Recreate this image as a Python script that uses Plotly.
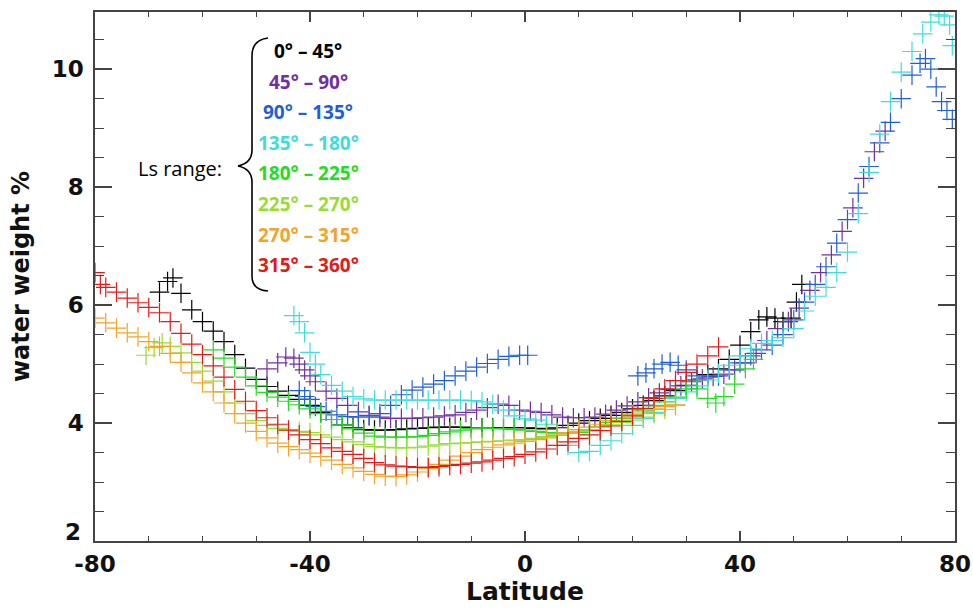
import plotly.graph_objects as go

# ---------------- data ----------------
ls_labels = ["0° – 45°", "45° – 90°", "90° – 135°", "135° – 180°",
             "180° – 225°", "225° – 270°", "270° – 315°", "315° – 360°"]
ls_colors = ["#000000", "#7030A0", "#1F5FD6", "#3FDCDC",
             "#22DD22", "#9ADB34", "#F2A428", "#E31A1A"]

lat_00_45 = [-68, -66.5, -65.5, -64, -62, -60, -58, -56, -54, -52, -50, -48, -46, -44, -42, -40,
             -38, -36, -34, -32, -30, -28, -26, -24, -22, -20, -18, -16, -14, -12, -10, -8, -6, -4,
             -2, 0, 2, 4, 6, 8, 10, 12, 14, 16, 18, 20, 22, 24, 26, 28, 30, 32, 34, 36, 38, 40, 42,
             43.5, 45, 46.5, 48, 49.5, 50.5, 51.5]
ww_00_45 = [6.22, 6.40, 6.46, 6.20, 5.92, 5.72, 5.56, 5.38, 5.16, 4.93, 4.74, 4.62, 4.54, 4.47, 4.40,
            4.30, 4.18, 4.06, 3.97, 3.92, 3.89, 3.88, 3.88, 3.89, 3.90, 3.91, 3.92, 3.93, 3.93, 3.93,
            3.92, 3.92, 3.92, 3.92, 3.92, 3.92, 3.91, 3.90, 3.92, 3.96, 4.00, 4.04, 4.08, 4.13, 4.18,
            4.24, 4.30, 4.38, 4.46, 4.55, 4.64, 4.73, 4.82, 4.92, 5.08, 5.32, 5.55, 5.75, 5.80, 5.78,
            5.72, 5.78, 6.05, 6.35]

lat_45_90 = [-48, -46, -44.5, -43, -42, -41, -40, -39, -37, -35, -33, -31, -29, -27, -25, -23, -21,
             -19, -17, -15, -13, -11, -9, -7, -5, -3, -1, 1, 3, 5, 7, 9, 11, 13, 15, 17, 19, 21, 23,
             25, 27, 29, 31, 33, 35, 37, 39, 41, 43, 45, 47, 49, 51, 53, 55, 57, 59, 61, 63, 65, 67]
ww_45_90 = [4.92, 5.02, 5.12, 5.10, 5.00, 4.90, 4.80, 4.70, 4.54, 4.42, 4.30, 4.19, 4.13, 4.10, 4.08,
            4.08, 4.08, 4.09, 4.10, 4.12, 4.14, 4.18, 4.22, 4.26, 4.32, 4.30, 4.22, 4.20, 4.18, 4.14,
            4.10, 4.09, 4.09, 4.10, 4.15, 4.22, 4.29, 4.36, 4.43, 4.51, 4.57, 4.63, 4.70, 4.75, 4.79,
            4.83, 4.90, 5.02, 5.18, 5.40, 5.60, 5.72, 5.95, 6.25, 6.55, 6.85, 7.25, 7.65, 8.15, 8.60,
            8.95]

lat_90_135 = [-42, -41, -40, -39, -37, -35, -33, -31, -29, -27, -25, -23, -21, -19, -17, -15, -13,
              -11, -9, -7, -5, -3, -1, 0.5,
              21, 22.5, 24, 25.5, 27, 28.5, 30, 32, 34, 36, 38, 40, 42, 44, 46, 48, 50, 52, 54, 56,
              58, 60, 62, 64, 66, 68, 70, 72, 73.5, 74.5, 75.5, 76.5, 77.5, 78.5, 79.5]
ww_90_135 = [4.55, 4.45, 4.40, 4.28, 4.20, 4.14, 4.11, 4.10, 4.12, 4.16, 4.30, 4.48, 4.56, 4.61, 4.66,
             4.72, 4.80, 4.88, 4.95, 5.01, 5.08, 5.13, 5.15, 5.15,
             4.80, 4.85, 4.92, 5.00, 5.03, 4.98, 4.90, 4.80, 4.78, 4.80, 4.90, 5.02, 5.14, 5.24, 5.32,
             5.50, 5.75, 6.05, 6.35, 6.65, 7.05, 7.45, 7.90, 8.35, 8.75, 9.10, 9.50, 9.90, 10.10,
             10.18, 10.00, 9.70, 9.45, 9.30, 9.15]

lat_135_180 = [-43, -42, -41, -40, -39, -38, -36, -34, -32, -30, -28, -26, -24, -22, -20, -18, -16,
               -14, -12, -10, -8, -6, -4, -2, 0, 2, 4, 6, 8, 10, 12, 14, 16, 18, 20, 22, 24, 26, 28,
               30, 32, 34, 36, 38, 40, 42, 44, 46, 48, 50, 52, 54, 56, 58, 60, 62, 64, 66, 68, 70, 72,
               74, 75.5, 77, 78, 79, 79.5]
ww_135_180 = [5.82, 5.72, 5.53, 5.20, 5.00, 4.82, 4.64, 4.54, 4.45, 4.41, 4.39, 4.39, 4.39, 4.39,
              4.39, 4.39, 4.39, 4.39, 4.39, 4.38, 4.36, 4.32, 4.22, 4.12, 4.07, 4.05, 3.98, 3.84, 3.62,
              3.50, 3.52, 3.62, 3.70, 3.82, 3.96, 4.08, 4.18, 4.30, 4.42, 4.53, 4.63, 4.73, 4.84, 4.98,
              5.14, 5.26, 5.35, 5.40, 5.45, 5.60, 5.90, 6.15, 6.30, 6.55, 6.90, 7.55, 8.25, 8.90, 9.45,
              9.95, 10.30, 10.60, 10.80, 10.92, 10.90, 10.75, 10.40]

lat_180_225 = [-58, -56, -54, -52, -50, -48, -46, -44, -42, -40, -38, -36, -34, -32, -30, -28, -26,
               -24, -22, -20, -18, -16, -14, -12, -10, -8, -6, -4, -2, 0, 2, 4, 6, 8, 10, 12, 14, 16,
               18, 20, 22, 24, 26, 28, 30, 32, 34, 35.5, 37, 39, 41, 42.5]
ww_180_225 = [5.24, 5.10, 4.95, 4.78, 4.63, 4.52, 4.44, 4.37, 4.31, 4.24, 4.16, 4.06, 3.97, 3.90,
              3.83, 3.78, 3.76, 3.76, 3.76, 3.77, 3.79, 3.82, 3.85, 3.88, 3.90, 3.92, 3.91, 3.90, 3.89,
              3.88, 3.86, 3.84, 3.83, 3.83, 3.84, 3.88, 3.94, 4.01, 4.08, 4.15, 4.22, 4.29, 4.36, 4.44,
              4.58, 4.58, 4.42, 4.34, 4.45, 4.66, 4.92, 5.08]

lat_225_270 = [-70.5, -69, -67.5, -66, -64, -62, -60, -58, -56, -54, -52, -50, -48, -46, -44, -42,
               -40, -38, -36, -34, -32, -30, -28, -26, -24, -22, -20, -18, -16, -14, -12, -10, -8, -6,
               -4, -2, 0, 2, 4, 6, 8, 10, 12, 14, 16, 18, 20, 22, 24, 26, 28]
ww_225_270 = [5.15, 5.28, 5.36, 5.30, 5.19, 5.03, 4.88, 4.71, 4.53, 4.34, 4.16, 4.04, 3.96, 3.91,
              3.88, 3.86, 3.84, 3.80, 3.76, 3.72, 3.68, 3.64, 3.60, 3.59, 3.58, 3.58, 3.59, 3.61, 3.63,
              3.65, 3.66, 3.67, 3.68, 3.69, 3.70, 3.71, 3.72, 3.74, 3.77, 3.80, 3.83, 3.86, 3.89, 3.93,
              3.97, 4.01, 4.05, 4.10, 4.16, 4.23, 4.30]

lat_270_315 = [-80, -78, -76, -74, -72, -70, -68, -66, -64, -62, -60, -58, -56, -54, -52, -50, -48,
               -46, -44, -42, -40, -38, -36, -34, -32, -30, -28, -26, -24, -22, -20, -18, -16, -14,
               -12, -10, -8, -6, -4, -2, 0, 2, 4, 6, 8, 10, 12, 14, 16, 18, 20, 22, 24, 26, 28]
ww_270_315 = [5.78, 5.70, 5.61, 5.53, 5.46, 5.38, 5.30, 5.18, 5.03, 4.85, 4.68, 4.53, 4.34, 4.16,
              4.00, 3.86, 3.75, 3.66, 3.60, 3.55, 3.49, 3.43, 3.37, 3.30, 3.24, 3.18, 3.13, 3.10, 3.09,
              3.12, 3.17, 3.23, 3.30, 3.37, 3.44, 3.50, 3.55, 3.59, 3.63, 3.66, 3.69, 3.72, 3.75, 3.79,
              3.84, 3.89, 3.93, 3.98, 4.04, 4.09, 4.14, 4.19, 4.24, 4.28, 4.31]

lat_315_360 = [-80, -79, -78, -76, -74, -72, -70, -68, -66, -64, -62, -60, -58, -56, -54, -52, -50,
               -48, -46, -44, -42, -40, -38, -36, -34, -32, -30, -28, -26, -24, -22, -20, -18, -16,
               -14, -12, -10, -8, -6, -4, -2, 0, 2, 4, 6, 8, 10, 12, 14, 16, 18, 20, 22, 24, 26, 28,
               30, 32, 34, 36]
ww_315_360 = [6.55, 6.35, 6.30, 6.22, 6.12, 6.04, 5.96, 5.87, 5.72, 5.52, 5.34, 5.16, 4.97, 4.78,
              4.57, 4.37, 4.21, 4.09, 3.98, 3.88, 3.80, 3.72, 3.65, 3.58, 3.52, 3.47, 3.40, 3.33, 3.29,
              3.27, 3.26, 3.25, 3.25, 3.26, 3.28, 3.30, 3.32, 3.34, 3.37, 3.40, 3.43, 3.47, 3.51, 3.56,
              3.62, 3.68, 3.74, 3.80, 3.87, 3.95, 4.03, 4.12, 4.25, 4.42, 4.58, 4.72, 4.86, 5.00, 5.14,
              5.29]

series_lat = [lat_00_45, lat_45_90, lat_90_135, lat_135_180,
              lat_180_225, lat_225_270, lat_270_315, lat_315_360]
series_ww = [ww_00_45, ww_45_90, ww_90_135, ww_135_180,
             ww_180_225, ww_225_270, ww_270_315, ww_315_360]

x_ticks = [-80, -40, 0, 40, 80]
y_ticks = [4, 6, 8, 10]
y_bottom_label = 2

# ---------------- figure ----------------
W, H = 973, 610
ML, MR, MT, MB = 95, 18, 12, 69
AX_COL = "#444444"
TXT_COL = "#111111"
TICK_FONT = dict(family="DejaVu Sans", size=23, color=TXT_COL, weight="bold")


def px_to_paper(px, py):
    return (px - ML) / (W - ML - MR), (H - MB - py) / (H - MT - MB)


fig = go.Figure()
for name, col, xs, ys in zip(ls_labels, ls_colors, series_lat, series_ww):
    fig.add_trace(go.Scatter(
        x=xs, y=ys, mode="markers", name=name,
        marker=dict(symbol="cross-thin", size=14, color=col,
                    line=dict(color=col, width=1.2)),
        showlegend=False))

# legend text (coloured labels)
label_py = [51, 82, 112, 143, 173, 204, 235, 265]
for txt, col, py in zip(ls_labels, ls_colors, label_py):
    xp, yp = px_to_paper(308, py)
    fig.add_annotation(x=xp, y=yp, xref="paper", yref="paper", text=txt,
                       showarrow=False, xanchor="center", yanchor="middle",
                       font=dict(family="Open Sans", size=19, color=col, weight="bold"))

xp, yp = px_to_paper(180, 168)
fig.add_annotation(x=xp, y=yp, xref="paper", yref="paper", text="Ls range:",
                   showarrow=False, xanchor="center", yanchor="middle",
                   font=dict(family="Open Sans", size=20, color="black"))

# bottom y tick label "2" (raised slightly as in the original, to clear "-80")
fig.add_annotation(x=0, y=y_bottom_label, xref="paper", yref="y", text=str(y_bottom_label),
                   showarrow=False, xanchor="right", yanchor="middle", xshift=-12, yshift=9,
                   font=TICK_FONT)

# curly brace
pts = [("M", [(268, 38)]), ("Q", [(252, 40), (252, 56)]), ("L", [(252, 150)]),
       ("Q", [(252, 163), (238, 166)]), ("Q", [(252, 169), (252, 182)]), ("L", [(252, 276)]),
       ("Q", [(252, 290), (268, 291)])]
path = ""
for cmd, plist in pts:
    path += cmd + " " + " ".join("%.5f,%.5f" % px_to_paper(a, b) for a, b in plist) + " "
fig.add_shape(type="path", path=path.strip(), xref="paper", yref="paper",
              line=dict(color="black", width=1.6))

axis_common = dict(showline=True, linecolor=AX_COL, linewidth=1.5, mirror="ticks",
                   ticks="inside", tickcolor=AX_COL, tickwidth=1.5, automargin=False,
                   showgrid=False, zeroline=False, tickfont=TICK_FONT)

fig.update_xaxes(range=[-80, 80], tickvals=x_ticks, ticktext=[str(v) for v in x_ticks],
                 ticklen=10, ticklabelstandoff=2,
                 minor=dict(dtick=10, ticks="inside", ticklen=5, tickcolor=AX_COL, tickwidth=1.2),
                 title=dict(text="Latitude", standoff=2,
                            font=dict(family="DejaVu Sans", size=25, color=TXT_COL,
                                      weight="bold")),
                 **axis_common)
fig.update_yaxes(range=[2, 10.97], tickvals=y_ticks, ticktext=[str(v) for v in y_ticks],
                 ticklen=17, ticklabelstandoff=5,
                 minor=dict(dtick=0.5, ticks="inside", ticklen=9, tickcolor=AX_COL, tickwidth=1.2),
                 title=dict(text="water weight %", standoff=15,
                            font=dict(family="DejaVu Sans", size=24, color=TXT_COL,
                                      weight="bold")),
                 **axis_common)

fig.update_layout(width=W, height=H, margin=dict(l=ML, r=MR, t=MT, b=MB, autoexpand=False),
                  paper_bgcolor="white", plot_bgcolor="white", hovermode=False)

fig.write_html("out.html", config={"displayModeBar": False},
               post_script="document.body.style.margin='0px';document.body.style.overflow='hidden';")
